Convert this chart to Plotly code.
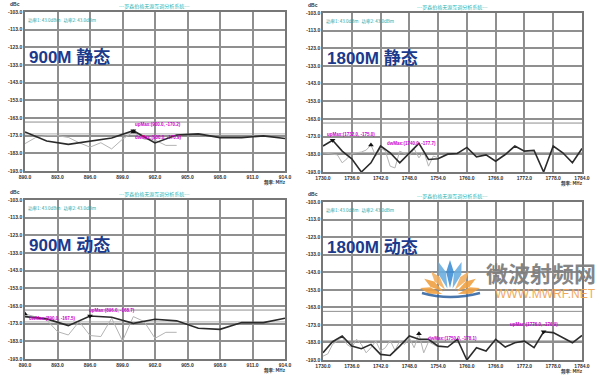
import math
import plotly.graph_objects as go

# ---------------- data ----------------
f900_up = [890, 892, 894, 896, 898, 900, 902, 904, 906, 908, 910, 912, 914]
f900_dw = list(range(890, 905))
f1800_up = list(range(1730, 1785, 2))
f1800_dw = list(range(1730, 1755))

s900_up = [-170.9, -176.0, -177.9, -176.0, -174.3, -170.2, -177.1, -172.6, -172.0, -174.1, -174.1, -173.1, -174.6]
s900_dw = [-177.5, -174.0, -173.0, -173.0, -174.0, -177.0, -179.5, -177.0, -180.5, -175.0, -170.9, -175.0, -175.5, -178.5, -178.5]

s1800_up = [-178.3, -175.0, -181.2, -185.5, -193.0, -187.8, -178.3, -182.1, -187.8, -182.1, -176.8, -185.9, -185.5, -182.9,
            -182.5, -179.1, -184.4, -183.3, -186.9, -183.1, -178.3, -181.2, -180.8, -193.0, -178.3, -182.1, -187.8, -179.7]
s1800_dw = [-182.1, -182.5, -183.1, -183.3, -187.8, -185.5, -182.5, -182.1, -181.7, -180.6, -177.7, -184.0, -179.3, -181.2,
            -189.7, -190.7, -181.2, -182.5, -184.0, -179.8, -185.0, -181.2, -189.7, -184.0, -185.0]

d900_up = [-169.0, -170.3, -174.1, -168.7, -169.4, -172.8, -170.5, -171.4, -175.6, -176.2, -172.4, -172.4, -169.9]
d900_dw = [-167.5, -169.0, -170.9, -177.5, -179.4, -171.8, -179.7, -180.3, -169.9, -182.8, -169.0, -171.8, -181.3, -177.9, -177.9]

d1800_up = [-188.9, -182.6, -179.3, -185.1, -186.6, -184.1, -189.8, -190.4, -185.1, -179.3, -181.2, -181.2, -185.1, -185.6,
            -181.2, -193.0, -186.0, -187.9, -181.2, -185.6, -183.2, -182.2, -186.0, -176.9, -177.4, -180.3, -183.2, -179.0]
d1800_dw = [-190.8, -189.5, -184.1, -182.2, -179.9, -184.1, -186.0, -181.2, -184.1, -188.9, -186.0, -182.2, -187.9, -186.0,
            -181.8, -187.5, -182.2, -184.1, -180.3, -186.0, -178.1, -188.9, -182.6, -184.1, -185.6]

y_ticks = [-193, -183, -173, -163, -153, -143, -133, -123, -113, -103]
x900_ticks = [890, 893, 896, 899, 902, 905, 908, 911, 914]
x1800_ticks = [1730, 1736, 1742, 1748, 1754, 1760, 1766, 1772, 1778, 1784]

panel_titles = ["900M 静态", "1800M 静态", "900M 动态", "1800M 动态"]
sys_title = "---罗森伯格无源互调分析系统---"
power_text = "功率1: 43.0dBm   功率2: 43.0dBm"
limit_line = -165.3

panels = [
    dict(xu=f900_up, yu=s900_up, xd=f900_dw, yd=s900_dw, xt=x900_ticks, avg=-172.0),
    dict(xu=f1800_up, yu=s1800_up, xd=f1800_dw, yd=s1800_dw, xt=x1800_ticks, avg=-182.0),
    dict(xu=f900_up, yu=d900_up, xd=f900_dw, yd=d900_dw, xt=x900_ticks, avg=-172.0),
    dict(xu=f1800_up, yu=d1800_up, xd=f1800_dw, yd=d1800_dw, xt=x1800_ticks, avg=-182.0),
]

# marker-label positions (data units)
lab = [
    dict(ux=900, uy=-166.4, dx=900, dy=-173.8),
    dict(ux=1730.4, uy=-171.5, dx=1743.0, dy=-177.1),
    dict(ux=895.7, uy=-165.3, dx=890.2, dy=-169.8),
    dict(ux=1768.5, uy=-172.8, dx=1751.5, dy=-180.7),
]

doms = [
    dict(x=[25 / 600, 285 / 600], y=[1 - 171 / 378, 1 - 12 / 378]),
    dict(x=[323 / 600, 582 / 600], y=[1 - 172 / 378, 1 - 13 / 378]),
    dict(x=[25 / 600, 285 / 600], y=[1 - 359 / 378, 1 - 200 / 378]),
    dict(x=[323 / 600, 582 / 600], y=[1 - 360 / 378, 1 - 202 / 378]),
]

fig = go.Figure()
annotations = []
shapes = []
tickfont = dict(family="Liberation Sans, Arial", size=5, color="#333333")
GRID = "#8f8f8f"

for i, p in enumerate(panels):
    n = "" if i == 0 else str(i + 1)
    xa, ya = "x" + n, "y" + n
    fig.add_trace(go.Scatter(x=p["xd"], y=p["yd"], mode="lines", xaxis=xa, yaxis=ya,
                             line=dict(color="#b4b4b4", width=1), showlegend=False, hoverinfo="skip"))
    fig.add_trace(go.Scatter(x=p["xu"], y=p["yu"], mode="lines", xaxis=xa, yaxis=ya,
                             line=dict(color="#2b2b2b", width=1.6), showlegend=False, hoverinfo="skip"))
    iu = max(range(len(p["yu"])), key=lambda k: p["yu"][k])
    idw = max(range(len(p["yd"])), key=lambda k: p["yd"][k])
    fig.add_trace(go.Scatter(x=[p["xu"][iu]], y=[p["yu"][iu]], mode="markers", xaxis=xa, yaxis=ya,
                             marker=dict(symbol="triangle-down", size=5, color="#111111"), showlegend=False,
                             hoverinfo="skip"))
    fig.add_trace(go.Scatter(x=[p["xd"][idw]], y=[p["yd"][idw]], mode="markers", xaxis=xa, yaxis=ya,
                             marker=dict(symbol="triangle-up", size=5, color="#111111"), showlegend=False,
                             hoverinfo="skip"))
    L = lab[i]
    annotations.append(dict(x=L["ux"], y=L["uy"], xref=xa, yref=ya, xanchor="left", yanchor="middle",
                            showarrow=False, text="<b>upMax:(%.1f, %.1f)</b>" % (p["xu"][iu], p["yu"][iu]),
                            font=dict(size=4.5, color="#cc00cc", family="Liberation Sans, Arial")))
    annotations.append(dict(x=L["dx"], y=L["dy"], xref=xa, yref=ya, xanchor="left", yanchor="middle",
                            showarrow=False, text="<b>dwMax:(%.1f, %.1f)</b>" % (p["xd"][idw], p["yd"][idw]),
                            font=dict(size=4.5, color="#cc00cc", family="Liberation Sans, Arial")))
    shapes.append(dict(type="line", xref=xa + " domain", yref=ya, x0=0, x1=1, y0=limit_line, y1=limit_line,
                       line=dict(color=GRID, width=1), layer="below"))
    shapes.append(dict(type="line", xref=xa + " domain", yref=ya, x0=0, x1=1, y0=p["avg"], y1=p["avg"],
                       line=dict(color="#b0b0b0", width=1), layer="below"))

    d = doms[i]
    xt = p["xt"]
    fig.layout["xaxis" + n] = dict(domain=d["x"], anchor=ya, range=[xt[0], xt[-1]], tickvals=xt,
                                   ticktext=["<b>%.1f</b>" % v for v in xt], tickfont=tickfont,
                                   showgrid=True, gridcolor=GRID, gridwidth=1.5, zeroline=False,
                                   showline=True, linecolor="#777777", linewidth=1.5, mirror=True,
                                   ticks="", ticklen=0, automargin=False)
    fig.layout["yaxis" + n] = dict(domain=d["y"], anchor=xa, range=[-193, -103], tickvals=y_ticks,
                                   ticktext=["<b>%.1f</b>" % v for v in y_ticks], tickfont=tickfont,
                                   showgrid=True, gridcolor=GRID, gridwidth=1.5, zeroline=False,
                                   showline=True, linecolor="#777777", linewidth=1.5, mirror=True,
                                   ticks="", ticklen=0, automargin=False)
    x0, x1 = d["x"]
    y0, y1 = d["y"]
    annotations.append(dict(x=(x0 + x1) / 2, y=y1 + 0.015, xref="paper", yref="paper", showarrow=False,
                            text=sys_title, font=dict(size=5, color="#2ab5b5", family="Noto Sans CJK SC"),
                            xanchor="center", yanchor="middle"))
    annotations.append(dict(x=x0 - 0.005, y=y1 + 0.02, xref="paper", yref="paper", showarrow=False,
                            text="<b>dBc</b>", font=dict(size=5, color="#333333", family="Liberation Sans, Arial"),
                            xanchor="right", yanchor="middle"))
    annotations.append(dict(x=x0 + 0.002, y=y1 - 0.022, xref="paper", yref="paper", showarrow=False,
                            text=power_text, font=dict(size=4.5, color="#2aa5a5", family="Noto Sans CJK SC"),
                            xanchor="left", yanchor="middle"))
    annotations.append(dict(x=x0 + 0.004, y=y1 - 0.12, xref="paper", yref="paper", showarrow=False,
                            text="<b>" + panel_titles[i] + "</b>",
                            font=dict(size=17, color="#1b3a8c", family="Liberation Sans, Noto Sans CJK SC"),
                            xanchor="left", yanchor="middle"))
    annotations.append(dict(x=x1 + 0.005, y=y0 - 0.03, xref="paper", yref="paper", showarrow=False,
                            text="<b>频率: MHz</b>", font=dict(size=4.5, color="#333333", family="Noto Sans CJK SC"),
                            xanchor="right", yanchor="middle"))

# watermark: fan logo + text
cx, cy = 450.0, 296.0
fan_cols = ["#f0a040", "#f0a040", "#f4b060", "#6aaee0", "#3f8fd6", "#6aaee0", "#f4b060", "#f0a040", "#f0a040"]
for k, col in enumerate(fan_cols):
    ang = math.radians(165 - k * (150 / (len(fan_cols) - 1)))
    r0, r1, w = 8.0, 36.0 if 2 < k < 6 else 31.0, 0.16
    rm = (r0 + r1) * 0.55
    pts = [(cx + r0 * math.cos(ang), cy - r0 * math.sin(ang)),
           (cx + rm * math.cos(ang - w), cy - rm * math.sin(ang - w)),
           (cx + r1 * math.cos(ang), cy - r1 * math.sin(ang)),
           (cx + rm * math.cos(ang + w), cy - rm * math.sin(ang + w))]
    path = "M " + " L ".join("%.4f,%.4f" % (px / 600, 1 - py / 378) for px, py in pts) + " Z"
    shapes.append(dict(type="path", xref="paper", yref="paper", path=path,
                       fillcolor=col, line=dict(width=0), opacity=0.9))
shapes.append(dict(type="path", xref="paper", yref="paper",
                   path="M %.4f,%.4f Q %.4f,%.4f %.4f,%.4f" % (422 / 600, 1 - 293 / 378, 450 / 600, 1 - 301 / 378,
                                                               480 / 600, 1 - 293 / 378),
                   line=dict(color="#2a5f9e", width=2.5), opacity=0.85))

annotations.append(dict(x=0.997, y=1 - 272 / 378, xref="paper", yref="paper", showarrow=False,
                        text="<b>微波射频网</b>", font=dict(size=22, color="#7f7f7f", family="Noto Sans CJK SC"),
                        xanchor="right", yanchor="middle", opacity=0.95))
annotations.append(dict(x=0.997, y=1 - 294 / 378, xref="paper", yref="paper", showarrow=False,
                        text="WWW.MWRF.NET", font=dict(size=12, color="#f2a552", family="Liberation Sans, Arial"),
                        xanchor="right", yanchor="middle", opacity=0.95))

fig.update_layout(width=600, height=378, margin=dict(l=0, r=0, t=0, b=0),
                  paper_bgcolor="white", plot_bgcolor="white", hovermode=False,
                  annotations=annotations, shapes=shapes, showlegend=False)
fig.write_html("out.html", config={"displayModeBar": False},
               post_script="document.body.style.margin='0';document.body.style.padding='0';")
